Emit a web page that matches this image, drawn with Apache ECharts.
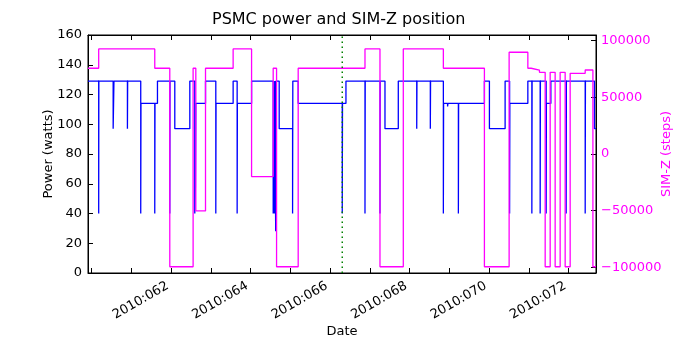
<!DOCTYPE html>
<html>
<head>
<meta charset="utf-8">
<script src="https://cdn.jsdelivr.net/npm/echarts@6/dist/echarts.min.js"></script>
<style>
  html, body { margin: 0; padding: 0; background: #fff; }
  #chart { width: 700px; height: 350px; }
</style>
</head>
<body>
<div id="chart"></div>
<script>
// Day-of-year (2010) for each step change of the PSMC power, and the power held from that time on.
const powerDays = [
  59.907, 60.176, 60.180, 60.540, 60.560, 60.899, 60.905, 61.234, 61.240, 61.587,
  61.593, 61.655, 61.965, 61.971, 62.091, 62.469, 62.594, 62.610, 62.620, 62.864,
  63.123, 63.129, 63.559, 63.660, 63.666, 64.023, 64.567, 64.580, 64.595, 64.605,
  64.630, 64.637, 64.718, 65.055, 65.061, 65.196, 66.305, 66.311, 66.398, 66.877,
  66.883, 67.254, 67.260, 67.380, 67.715, 68.179, 68.185, 68.521, 68.527, 68.849,
  68.855, 68.955, 68.965, 69.227, 69.233, 69.882, 70.008, 70.403, 70.516, 70.522,
  70.975, 71.076, 71.082, 71.285, 71.291, 71.436, 71.442, 71.554, 71.939, 71.945,
  72.418, 72.424, 72.650, 72.690
];
const powerWatts = [
  129, 40, 129, 97, 129, 97, 129, 40, 114, 40,
  114, 129, 40, 129, 97, 129, 40, 58, 114, 129,
  40, 114, 129, 40, 114, 129, 40, 58, 40, 129,
  28, 129, 97, 40, 129, 114, 40, 114, 129, 40,
  129, 40, 129, 97, 129, 97, 129, 97, 129, 40,
  114, 112, 114, 40, 114, 129, 97, 129, 40, 114,
  129, 40, 129, 40, 129, 40, 114, 129, 40, 129,
  40, 129, 97, 97
];

// Day-of-year for each SIM-Z move, and the position held from that time on.
const simzDays = [
  59.907, 60.176, 61.587, 61.965, 62.552, 62.620, 62.864, 63.559, 64.023, 64.567,
  64.652, 65.196, 66.877, 67.254, 67.841, 68.849, 69.882, 70.504, 70.975, 71.058,
  71.267, 71.411, 71.537, 71.662, 71.788, 71.914, 72.040, 72.418, 72.612, 72.690
];
const simzSteps = [
  75660, 92700, 75660, -99500, 75660, -50200, 75660, 92700, -19900, 75660,
  -99500, 75660, 92700, -99500, 92700, 75660, -99500, 89800, 75660, 74100,
  72100, -99500, 72100, -99500, 72100, -99500, 71200, 74100, -99500, -99500
];

// Time of the reference event marked with the dotted line.
const eventDay = 66.305;

// Axis ticks.
const dayTicks = [60, 61, 62, 63, 64, 65, 66, 67, 68, 69, 70, 71, 72];
const dayLabels = [62, 64, 66, 68, 70, 72];
const powerRange = [0, 160];
const simzRange = [-105000, 105000];
const simzTicks = [-100000, -50000, 0, 50000, 100000];

const dayMin = 59.907, dayMax = 72.69;

const powerData = powerDays.map((d, i) => [d, powerWatts[i]]);
const simzData = simzDays.map((d, i) => [d, simzSteps[i]]);
const eventData = powerRange.map(p => [eventDay, p]);

const FONT = 'DejaVu Sans';
const chart = echarts.init(document.getElementById('chart'));

chart.setOption({
  animation: false,
  title: {
    text: 'PSMC power and SIM-Z position',
    left: 207,
    top: 7,
    textStyle: { fontFamily: FONT, fontSize: 16, fontWeight: 'normal', color: '#000' }
  },
  grid: {
    left: 88, right: 104, top: 35, bottom: 77,
    show: true, borderColor: '#000',
    outerBoundsMode: 'none'
  },
  xAxis: [
    {
      type: 'value', min: dayMin, max: dayMax,
      name: 'Date', nameLocation: 'middle', nameGap: 52, nameMoveOverlap: false,
      nameTextStyle: { fontFamily: FONT, fontSize: 13, color: '#000' },
      axisLine: { onZero: false, lineStyle: { color: '#000' } },
      axisTick: { inside: true, length: 5, customValues: dayTicks, lineStyle: { color: '#000' } },
      axisLabel: {
        customValues: dayLabels, rotate: 30, margin: 10, padding: [0, 4, 0, 0],
        hideOverlap: false,
        fontFamily: FONT, fontSize: 13, color: '#000',
        formatter: v => '2010:0' + Math.round(v)
      },
      splitLine: { show: false }
    },
    {
      type: 'value', position: 'top', min: dayMin, max: dayMax,
      axisLine: { onZero: false, lineStyle: { color: '#000' } },
      axisTick: { inside: true, length: 5, customValues: dayTicks, lineStyle: { color: '#000' } },
      axisLabel: { show: false },
      splitLine: { show: false }
    }
  ],
  yAxis: [
    {
      type: 'value', min: powerRange[0], max: powerRange[1], interval: 20,
      name: 'Power (watts)', nameLocation: 'middle', nameGap: 33, nameRotate: 90,
      nameMoveOverlap: false,
      nameTextStyle: { fontFamily: FONT, fontSize: 13, color: '#000' },
      axisLine: { show: true, onZero: false, lineStyle: { color: '#000' } },
      axisTick: { inside: true, length: 5, lineStyle: { color: '#000' } },
      axisLabel: { margin: 6, fontFamily: FONT, fontSize: 13, color: '#000' },
      splitLine: { show: false }
    },
    {
      type: 'value', position: 'right', min: simzRange[0], max: simzRange[1],
      name: 'SIM-Z (steps)', nameLocation: 'middle', nameGap: 64, nameRotate: 90,
      nameMoveOverlap: false,
      nameTextStyle: { fontFamily: FONT, fontSize: 13, color: '#ff00ff' },
      axisLine: { show: true, onZero: false, lineStyle: { color: '#000' } },
      axisTick: { inside: true, length: 5, customValues: simzTicks, lineStyle: { color: '#000' } },
      axisLabel: {
        customValues: simzTicks, margin: 5,
        fontFamily: FONT, fontSize: 13, color: '#ff00ff',
        formatter: v => (v < 0 ? '\u2212' + Math.abs(v) : String(v))
      },
      splitLine: { show: false }
    }
  ],
  series: [
    {
      name: 'PSMC power', type: 'line', step: 'end',
      xAxisIndex: 0, yAxisIndex: 0,
      data: powerData, showSymbol: false,
      lineStyle: { color: '#0000ff', width: 1.3 }
    },
    {
      name: 'SIM-Z', type: 'line', step: 'end',
      xAxisIndex: 0, yAxisIndex: 1,
      data: simzData, showSymbol: false,
      lineStyle: { color: '#ff00ff', width: 1.3 }
    },
    {
      name: 'event', type: 'line',
      xAxisIndex: 0, yAxisIndex: 0,
      data: eventData, showSymbol: false, silent: true,
      lineStyle: { color: '#008000', type: [1.5, 3.5], width: 1.5 }
    }
  ]
});
</script>
</body>
</html>
